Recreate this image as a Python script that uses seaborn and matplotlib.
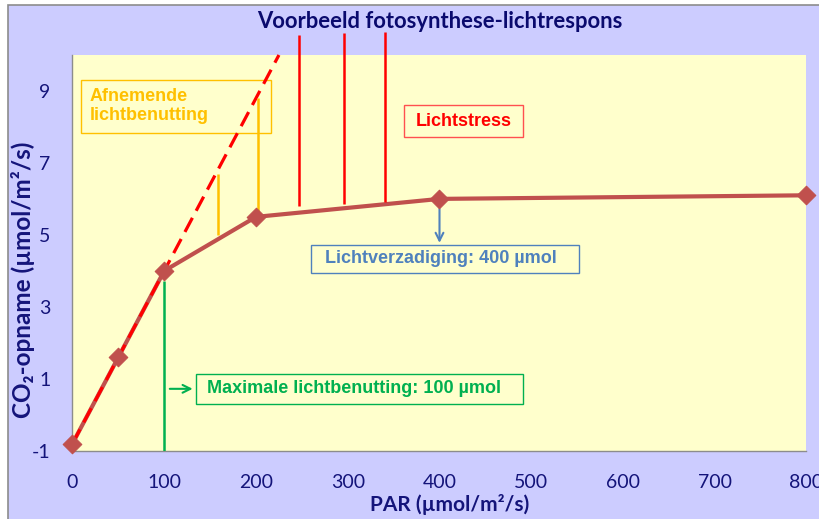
import seaborn as sns
import matplotlib.pyplot as plt
import pandas as pd
from matplotlib.patches import Rectangle

# measured light response
par = [0, 50, 100, 200, 400, 800]
co2 = [-0.8, 1.6, 4.0, 5.5, 6.0, 6.1]

# extrapolated initial slope (dashed)
slope_x = [0, 225]
slope_y = [-0.8, 10.0]

# marker lines
yellow_x = [159, 202]
yellow_top = [6.7, 8.8]
yellow_bottom = [5.0, 5.6]
stress_x = [247, 296, 341]
stress_top = [10.55, 10.62, 10.65]
stress_bottom = [5.8, 5.85, 5.92]

xticks = [0, 100, 200, 300, 400, 500, 600, 700, 800]
yticks = [-1, 1, 3, 5, 7, 9]

navy = '#14147A'
brown = '#C0504D'
orange = '#FFC000'
green = '#00B050'
blue = '#4F81BD'
bg = '#FFFFCC'

sns.set_theme(style='white')
plt.rcParams['font.family'] = ['Lato', 'DejaVu Sans']
plt.rcParams['axes.unicode_minus'] = False

fig = plt.figure(figsize=(8.2, 5.19), dpi=100)
fig.patch.set_facecolor('white')
fig.patches.append(Rectangle((8 / 820, -0.01), 1.0, 1 - 5 / 519 + 0.01,
                             transform=fig.transFigure, facecolor='#CCCCFF',
                             edgecolor='#8C8C8C', linewidth=1.2, zorder=-10))
ax = fig.add_axes([72.5 / 820, 1 - 450.7 / 519, 734 / 820, 395.7 / 519])
ax.set_facecolor(bg)

df = pd.DataFrame({'PAR': par, 'CO2': co2})
sns.lineplot(data=df, x='PAR', y='CO2', color=brown, linewidth=3, ax=ax, zorder=2)
ax.plot(slope_x, slope_y, color='red', linewidth=2.3, dashes=(5, 2.5), zorder=3, clip_on=False)
sns.scatterplot(data=df, x='PAR', y='CO2', color=brown, marker='D', s=90,
                edgecolor=brown, ax=ax, zorder=4, clip_on=False)

ax.vlines(yellow_x, yellow_bottom, yellow_top, color=orange, linewidth=1.8, zorder=3)
ax.vlines(stress_x, stress_bottom, stress_top, color='red', linewidth=1.8, zorder=3, clip_on=False)
ax.vlines([100], [-1], [3.73], color=green, linewidth=1.8, zorder=3)

ax.annotate('', xy=(400, 4.7), xytext=(400, 5.8),
            arrowprops=dict(arrowstyle='->', color=blue, lw=1.5, mutation_scale=14))
ax.annotate('', xy=(134, 0.72), xytext=(103, 0.72),
            arrowprops=dict(arrowstyle='->', color=green, lw=1.5, mutation_scale=14))

# annotation boxes (x0, x1, y0, y1 in data units), drawn under the lines
def box(x0, x1, y0, y1, edge):
    ax.add_patch(Rectangle((x0, y0), x1 - x0, y1 - y0, facecolor='none',
                           edgecolor=edge, linewidth=1, zorder=1.5))

box_font = ['Liberation Sans', 'DejaVu Sans']
box(9.3, 216, 7.84, 9.3, orange)
ax.text(19, 8.57, 'Afnemende\nlichtbenutting', color=orange, fontsize=13, fontweight='bold',
        family=box_font, ha='left', va='center', linespacing=1.15, zorder=6)
box(361.6, 490.7, 7.71, 8.62, '#FF5050')
ax.text(426, 8.16, 'Lichtstress', color='red', fontsize=13, fontweight='bold',
        family=box_font, ha='center', va='center', zorder=6)
box(259.6, 552.0, 3.94, 4.73, blue)
ax.text(402, 4.34, 'Lichtverzadiging: 400 µmol', color=blue, fontsize=13, fontweight='bold',
        family=box_font, ha='center', va='center', zorder=6)
box(134.3, 491.0, 0.29, 1.145, green)
ax.text(307, 0.72, 'Maximale lichtbenutting: 100 µmol', color=green, fontsize=13,
        fontweight='bold', family=box_font, ha='center', va='center', zorder=6)

ax.set_xlim(0, 800)
ax.set_ylim(-1, 10)
ax.set_xticks(xticks)
ax.set_yticks(yticks)
ax.tick_params(axis='both', direction='out', length=6, width=1, color='#8C8C8C',
               labelsize=14, labelcolor=navy)
ax.tick_params(axis='x', pad=11)
ax.tick_params(axis='y', pad=10)
for side in ['top', 'right']:
    ax.spines[side].set_visible(False)
for side in ['left', 'bottom']:
    ax.spines[side].set_color('#8C8C8C')
    ax.spines[side].set_linewidth(1)

ax.set_xlabel('PAR (µmol/m²/s)', fontsize=15, fontweight='bold', color=navy)
ax.xaxis.set_label_coords(0.514, -0.137)
ax.xaxis.label.set_verticalalignment('center')
ax.set_ylabel('CO₂-opname (µmol/m²/s)', fontsize=17.5, fontweight='bold', color=navy)
ax.yaxis.set_label_coords(-0.051, 0.431)

fig.text(440 / 820, 1 - 22 / 519, 'Voorbeeld fotosynthese-lichtrespons', fontsize=15.8,
         fontweight='bold', color='#0A0A6E', ha='center', va='center')

fig.savefig('out.png', dpi=100)
